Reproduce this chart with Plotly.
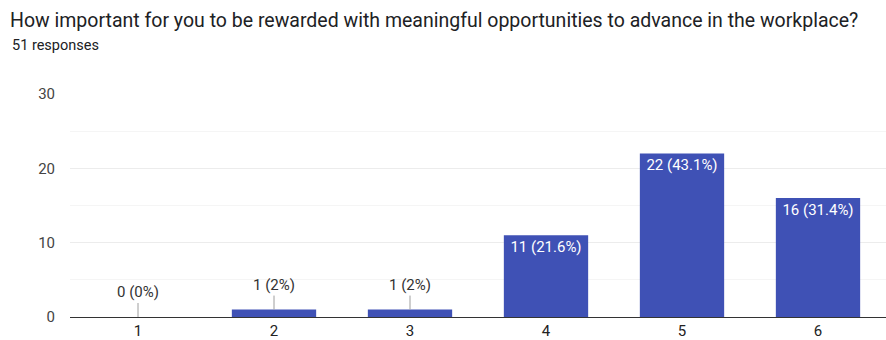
import plotly.graph_objects as go

categories = ["1", "2", "3", "4", "5", "6"]
counts = [0, 1, 1, 11, 22, 16]
labels = ["0 (0%)", "1 (2%)", "1 (2%)", "11 (21.6%)", "22 (43.1%)", "16 (31.4%)"]
y_ticks = [0, 10, 20, 30]

BAR = "#3f51b5"
inside_text = [lab if c >= 5 else "" for c, lab in zip(counts, labels)]

fig = go.Figure()
fig.add_trace(go.Bar(
    x=categories, y=counts, marker_color=BAR, marker_line_width=0,
    text=inside_text, textposition="inside", insidetextanchor="end",
    textfont=dict(color="white", size=15, family="Roboto, Arial"),
    textangle=0, cliponaxis=False,
))

for i, (c, lab) in enumerate(zip(counts, labels)):
    if c < 5:
        fig.add_annotation(
            x=i, y=c, xref="x", yref="y", text=lab, showarrow=True,
            arrowhead=0, arrowwidth=1, arrowcolor="#9e9e9e", ax=0, ay=-14,
            standoff=0, yanchor="bottom",
            font=dict(size=15, color="#333333", family="Roboto, Arial"),
        )

fig.update_layout(
    width=886, height=340,
    margin=dict(l=70, r=0, t=94, b=23),
    paper_bgcolor="white", plot_bgcolor="white",
    bargap=0.38, showlegend=False,
    title=dict(text="How important for you to be rewarded with meaningful opportunities to advance in the workplace?",
               x=10/886, xanchor="left", xref="container", y=1-20/340, yanchor="middle", yref="container",
               font=dict(size=19.5, color="#202124", family="Roboto, Arial")),
    font=dict(family="Roboto, Arial"),
)
fig.add_annotation(text="51 responses", xref="paper", yref="paper", x=-60/816, y=1+49/223,
                   xanchor="left", yanchor="middle", showarrow=False,
                   font=dict(size=14.5, color="#202124", family="Roboto, Arial"))

fig.update_yaxes(range=[0, 30], tickvals=y_ticks, showgrid=True, gridcolor="#ececec",
                 minor=dict(dtick=5, showgrid=True, gridcolor="#f5f5f5"),
                 zeroline=False, tickfont=dict(size=15, color="#444444"), ticks="",
                 ticklabelstandoff=14)
fig.update_xaxes(type="category", showline=True, linecolor="#333333", linewidth=1, ticks="",
                 tickfont=dict(size=15, color="#222222"))

fig.write_html("out.html")
